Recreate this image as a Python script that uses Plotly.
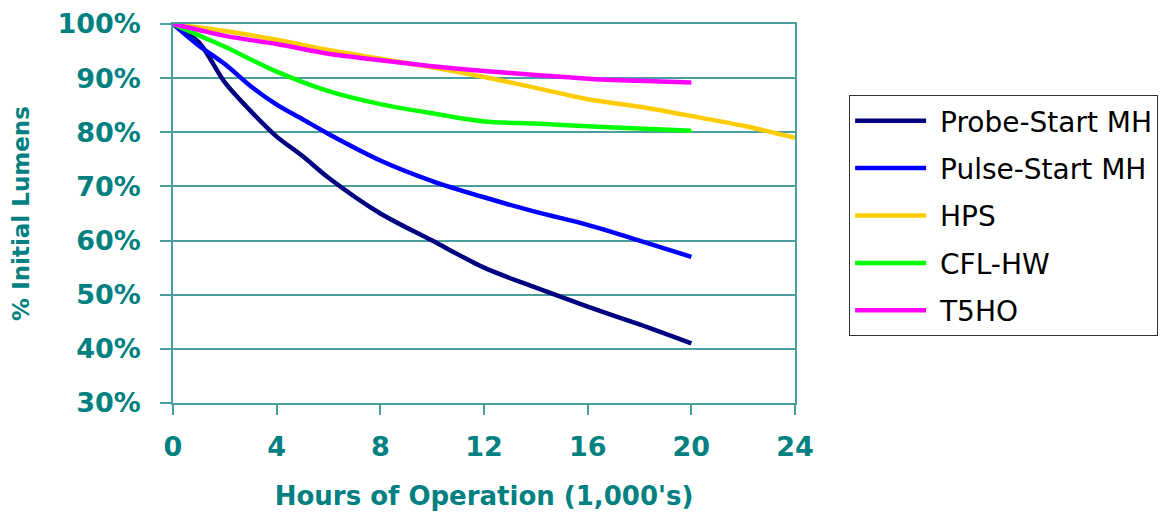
import plotly.graph_objects as go

# ---- data (hours in 1,000's, % initial lumens) ----
probe_hours = [0, 1, 2, 3, 4, 5, 6, 8, 10, 12, 14, 16, 18, 20]
probe_vals = [100, 96.6, 89.2, 83.9, 79.2, 75.6, 71.6, 65.0, 60.0, 55.0, 51.3, 47.8, 44.5, 41.0]

pulse_hours = [0, 1, 2, 3, 4, 5, 6, 8, 10, 12, 14, 16, 18, 20]
pulse_vals = [100, 96.0, 92.6, 88.5, 85.1, 82.4, 79.7, 74.8, 71.0, 68.0, 65.3, 62.9, 60.0, 57.0]

hps_hours = [0, 2, 4, 6, 8, 10, 12, 14, 16, 18, 20, 22, 24]
hps_vals = [100, 98.7, 97.1, 95.2, 93.6, 92.0, 90.2, 88.2, 86.1, 84.7, 83.0, 81.2, 79.0]

cfl_hours = [0, 1, 2, 4, 6, 8, 10, 12, 14, 16, 18, 20]
cfl_vals = [100, 97.9, 95.8, 91.2, 87.6, 85.2, 83.5, 82.0, 81.6, 81.1, 80.7, 80.3]

t5_hours = [0, 1, 2, 4, 6, 8, 10, 12, 14, 16, 18, 20]
t5_vals = [100, 98.9, 97.8, 96.3, 94.5, 93.3, 92.2, 91.3, 90.6, 89.9, 89.5, 89.2]

series_names = ["Probe-Start MH", "Pulse-Start MH", "HPS", "CFL-HW", "T5HO"]
series_colors = ["#000080", "#0000FF", "#FFCC00", "#00FF00", "#FF00FF"]
series_x = [probe_hours, pulse_hours, hps_hours, cfl_hours, t5_hours]
series_y = [probe_vals, pulse_vals, hps_vals, cfl_vals, t5_vals]

x_ticks = [0, 4, 8, 12, 16, 20, 24]
y_ticks = [30, 40, 50, 60, 70, 80, 90, 100]

TEAL = "#008080"
GRID = "#4a9e9e"

fig = go.Figure()
for name, color, xs, ys in zip(series_names, series_colors, series_x, series_y):
    fig.add_trace(go.Scatter(
        x=xs, y=ys, name=" " + name, mode="lines",
        line=dict(color=color, width=4.5, shape="spline", smoothing=0.8),
        legendgroup=name,
    ))

fig.update_layout(
    width=1172, height=514,
    margin=dict(l=165, r=385, t=16, b=119),
    paper_bgcolor="white", plot_bgcolor="white",
    font=dict(family="DejaVu Sans", color=TEAL),
    showlegend=True,
    legend=dict(
        x=1.087, xanchor="left", y=0.8127, yanchor="top",
        bgcolor="white", bordercolor="#333333", borderwidth=1,
        font=dict(family="DejaVu Sans", size=28, color="#000000"),
        tracegroupgap=8, itemwidth=71,
    ),
    xaxis=dict(
        range=[0, 24], tickvals=x_ticks, ticktext=[str(v) for v in x_ticks],
        showgrid=False, zeroline=False, automargin=False,
        showline=True, linecolor=GRID, linewidth=1.5, mirror=True,
        ticks="outside", ticklen=10, tickcolor=GRID, tickwidth=1.5,
        tickfont=dict(family="DejaVu Sans", size=27, color=TEAL, weight="bold"),
        ticklabelstandoff=9,
        title=dict(text="Hours of Operation (1,000's)", standoff=26,
                   font=dict(family="DejaVu Sans", size=26, color=TEAL, weight="bold")),
    ),
    yaxis=dict(
        range=[30, 100], tickvals=y_ticks, ticktext=[f"{v}%" for v in y_ticks],
        showgrid=True, gridcolor=GRID, gridwidth=1.5, zeroline=False, automargin=False,
        showline=True, linecolor=GRID, linewidth=1.5, mirror=True,
        ticks="outside", ticklen=11, tickcolor=GRID, tickwidth=1.5,
        tickfont=dict(family="DejaVu Sans", size=27, color=TEAL, weight="bold"),
        ticklabelstandoff=14,
        title=dict(text="% Initial Lumens", standoff=27,
                   font=dict(family="DejaVu Sans", size=23, color=TEAL, weight="bold")),
    ),
)

fig.write_html("out.html")
